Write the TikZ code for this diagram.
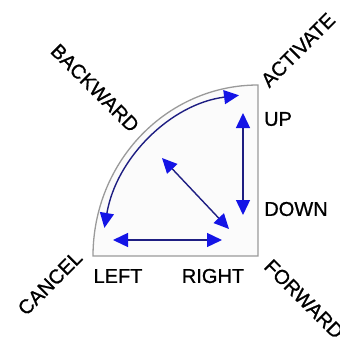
\documentclass[tikz,border=0pt]{standalone}
\usepackage{fontspec}
\setmainfont{Liberation Sans}
\newfontfamily\lblfont{Liberation Sans}[FakeBold=0.9]
\usetikzlibrary{arrows.meta}
\definecolor{headblue}{HTML}{1414E6}
\definecolor{linenavy}{HTML}{1E1E82}
\definecolor{rimgray}{HTML}{9A9A9A}
\definecolor{padfill}{HTML}{FBFBFB}
\tikzset{
  dirarrow/.style={draw=linenavy, line width=1.4pt,
    {Triangle[length=15pt,width=14pt,color=headblue]}-{Triangle[length=15pt,width=14pt,color=headblue]}},
  lbl/.style={font=\lblfont\fontsize{20}{22}\selectfont, inner sep=0pt, text=black},
}
\begin{document}
\begin{tikzpicture}[x=1pt,y=1pt]
\useasboundingbox (0,0) rectangle (340,-341);
% quarter pad
\draw[rimgray, line width=1.3pt, fill=padfill]
  (93,-256) -- (258,-256) -- (258,-85)
  arc[start angle=90,end angle=180,x radius=165,y radius=171] -- cycle;
% arrow end points
\coordinate (arcA) at (104.4,-227.9);
\coordinate (upT) at (243,-113);
\coordinate (dnB) at (243,-215);
\coordinate (dgA) at (162,-158);
\coordinate (dgB) at (229,-229);
\coordinate (hzL) at (113,-240);
\coordinate (hzR) at (222,-240);
% arrows
\draw[dirarrow] (arcA) arc[start angle=170,end angle=97,x radius=156,y radius=162];
\draw[dirarrow] (upT) -- (dnB);
\draw[dirarrow] (dgA) -- (dgB);
\draw[dirarrow] (hzL) -- (hzR);
% labels
\node[lbl] (up) at (278,-119) {UP};
\node[lbl] (down) at (296,-209) {DOWN};
\node[lbl] (left) at (118,-276) {LEFT};
\node[lbl] (right) at (213,-276) {RIGHT};
\node[lbl, rotate=45] (cancel) at (50,-283) {CANCEL};
\node[lbl, rotate=-45] (forward) at (304,-299) {FORWARD};
\node[lbl, rotate=-45] (backward) at (95,-88) {BACKWARD};
\node[lbl, rotate=45] (activate) at (298,-50) {ACTIVATE};
\end{tikzpicture}
\end{document}
